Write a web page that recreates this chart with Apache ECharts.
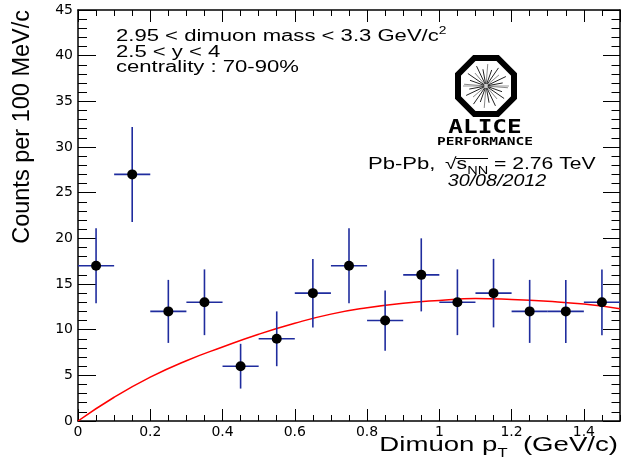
<!DOCTYPE html>
<html>
<head>
<meta charset="utf-8">
<script src="https://cdn.jsdelivr.net/npm/echarts@6/dist/echarts.min.js"></script>
<style>
html, body { margin: 0; padding: 0; background: #fff; }
#chart { width: 621px; height: 467px; }
</style>
</head>
<body>
<div id="chart"></div>
<script>
// measured points (bin centres, counts, stat. errors)
var ptCenters = [0.05, 0.15, 0.25, 0.35, 0.45, 0.55, 0.65, 0.75, 0.85, 0.95, 1.05, 1.15, 1.25, 1.35, 1.45];
var counts = [17, 27, 12, 13, 6, 9, 14, 17, 11, 16, 13, 14, 12, 12, 13];
var countErrs = [4.1, 5.2, 3.45, 3.6, 2.45, 3.0, 3.75, 4.1, 3.3, 4.0, 3.6, 3.75, 3.45, 3.45, 3.6];
var binHalfWidth = 0.05;

// red fit curve
var fitPt = [0, 0.1, 0.2, 0.3, 0.4, 0.5, 0.6, 0.7, 0.8, 0.9, 1.0, 1.1, 1.2, 1.3, 1.4, 1.5];
var fitCounts = [0, 2.6, 4.8, 6.6, 8.1, 9.5, 10.7, 11.7, 12.4, 12.9, 13.2, 13.4, 13.3, 13.1, 12.8, 12.3];

// axes
var xRange = [0, 1.5];
var yRange = [0, 45];
var xMajor = 0.2, xMinor = 0.05, yMajor = 5, yMinorSplit = 5;

var font = '"Liberation Sans", Arial, sans-serif';
var stretch = 1.38;

var myChart = echarts.init(document.getElementById('chart'));

var errData = ptCenters.map(function (x, i) { return [x, counts[i], countErrs[i]]; });
var pointData = ptCenters.map(function (x, i) { return [x, counts[i]]; });
var fitData = fitPt.map(function (x, i) { return [x, fitCounts[i]]; });

function xAxisDef(pos, step, tickLen, major) {
    return {
        type: 'value',
        position: pos,
        min: xRange[0],
        max: xRange[1],
        interval: step,
        axisLine: { show: major, onZero: false, lineStyle: { color: '#000', width: 1.5 } },
        axisTick: { show: true, inside: true, length: tickLen, lineStyle: { color: '#000', width: 1 } },
        axisLabel: {
            show: major && pos === 'bottom',
            showMaxLabel: false,
            margin: 4,
            color: '#000',
            fontFamily: 'DejaVu Sans',
            fontSize: 14
        },
        splitLine: { show: false }
    };
}

function yAxisDef(pos, tickLen) {
    return {
        type: 'value',
        position: pos,
        min: yRange[0],
        max: yRange[1],
        interval: yMajor,
        axisLine: { show: true, onZero: false, lineStyle: { color: '#000', width: 1.5 } },
        axisTick: { show: true, inside: true, length: tickLen, lineStyle: { color: '#000', width: 1 } },
        minorTick: { show: true, splitNumber: yMinorSplit, length: tickLen / 2, lineStyle: { color: '#000', width: 1 } },
        axisLabel: {
            show: pos === 'left',
            margin: 5,
            color: '#000',
            fontFamily: 'DejaVu Sans',
            fontSize: 14
        },
        splitLine: { show: false }
    };
}

// ALICE logo pieces
var octPts = [];
for (var k = 0; k < 8; k++) {
    var a = Math.PI / 8 + k * Math.PI / 4;
    var r = 28 / Math.cos(Math.PI / 8);
    octPts.push([r * Math.cos(a), r * Math.sin(a)]);
}
var rays = [];
for (var j = 0; j < 24; j++) {
    var ang = j * Math.PI / 12 + 0.08;
    var len = (j % 2) ? 17 : 22;
    rays.push({
        type: 'line',
        shape: { x1: 2 * Math.cos(ang), y1: 2 * Math.sin(ang), x2: len * Math.cos(ang), y2: len * Math.sin(ang) },
        style: { stroke: (j % 3) ? '#222' : '#888', lineWidth: 1 }
    });
}

var option = {
    animation: false,
    backgroundColor: '#fff',
    grid: { left: 78, right: 1, top: 10, bottom: 46, outerBoundsMode: 'none' },
    xAxis: [
        xAxisDef('bottom', xMajor, 12, true),
        xAxisDef('bottom', xMinor, 6, false),
        xAxisDef('top', xMajor, 12, true),
        xAxisDef('top', xMinor, 6, false)
    ],
    yAxis: [
        yAxisDef('left', 18),
        yAxisDef('right', 17)
    ],
    series: [
        {
            type: 'line',
            data: fitData,
            smooth: true,
            showSymbol: false,
            lineStyle: { color: '#ff0000', width: 1.5 },
            z: 2
        },
        {
            type: 'custom',
            data: errData,
            encode: { x: 0, y: 1 },
            renderItem: function (params, api) {
                var x = api.value(0), y = api.value(1), e = api.value(2);
                var l = api.coord([x - binHalfWidth, y]);
                var rr = api.coord([x + binHalfWidth, y]);
                var t = api.coord([x, y + e]);
                var b = api.coord([x, y - e]);
                var st = { stroke: '#1f2c9e', lineWidth: 1.6 };
                return {
                    type: 'group',
                    children: [
                        { type: 'line', shape: { x1: l[0], y1: l[1], x2: rr[0], y2: rr[1] }, style: st },
                        { type: 'line', shape: { x1: t[0], y1: t[1], x2: b[0], y2: b[1] }, style: st }
                    ]
                };
            },
            z: 3
        },
        {
            type: 'scatter',
            data: pointData,
            symbol: 'circle',
            symbolSize: 10,
            itemStyle: { color: '#000', opacity: 1 },
            z: 4
        }
    ],
    graphic: [
        {
            type: 'text', x: 23, y: 10, rotation: Math.PI / 2,
            style: { text: 'Counts per 100 MeV/c', font: '23.5px ' + font, fill: '#000', align: 'right', verticalAlign: 'middle' }
        },
        {
            type: 'text', x: 618, y: 445, scaleX: stretch,
            style: {
                text: '{a|Dimuon p}{s|T}{a|  (GeV/c)}',
                align: 'right', verticalAlign: 'middle',
                rich: {
                    a: { font: '20px ' + font, fill: '#000', lineHeight: 30 },
                    s: { font: '12px ' + font, fill: '#000', lineHeight: 12, verticalAlign: 'bottom' }
                }
            }
        },
        {
            type: 'text', x: 116, y: 37, scaleX: stretch,
            style: {
                text: '{a|2.95 < dimuon mass < 3.3 GeV/c}{s|2}',
                align: 'left', verticalAlign: 'middle',
                rich: {
                    a: { font: '16px ' + font, fill: '#000', lineHeight: 22 },
                    s: { font: '10px ' + font, fill: '#000', lineHeight: 10, verticalAlign: 'top' }
                }
            }
        },
        {
            type: 'text', x: 116, y: 53, scaleX: stretch,
            style: { text: '2.5 < y < 4', font: '16px ' + font, fill: '#000', align: 'left', verticalAlign: 'middle' }
        },
        {
            type: 'text', x: 116, y: 68, scaleX: stretch,
            style: { text: 'centrality : 70-90%', font: '16px ' + font, fill: '#000', align: 'left', verticalAlign: 'middle' }
        },
        {
            type: 'group', x: 486, y: 86,
            children: [
                { type: 'polygon', shape: { points: octPts }, style: { fill: '#fff', stroke: '#000', lineWidth: 6 } },
                { type: 'line', shape: { x1: -23, y1: 0, x2: 23, y2: 0 }, style: { stroke: '#999', lineWidth: 1.2 } }
            ].concat(rays)
        },
        {
            type: 'text', x: 485, y: 127.5, scaleX: 1.22,
            style: { text: 'ALICE', font: 'bold 20px "DejaVu Sans Mono", monospace', fill: '#000', align: 'center', verticalAlign: 'middle' }
        },
        {
            type: 'text', x: 485, y: 142.5, scaleX: 1.32,
            style: { text: 'PERFORMANCE', font: 'bold 11px "DejaVu Sans Mono", monospace', fill: '#000', align: 'center', verticalAlign: 'middle' }
        },
        {
            type: 'text', x: 368, y: 165, scaleX: stretch,
            style: { text: 'Pb-Pb,', font: '16px ' + font, fill: '#000', align: 'left', verticalAlign: 'middle' }
        },
        {
            type: 'text', x: 445, y: 165, scaleX: 1.32,
            style: {
                text: '{a|\u221As}{s|NN}{a| = 2.76 TeV}',
                align: 'left', verticalAlign: 'middle',
                rich: {
                    a: { font: '16px ' + font, fill: '#000', lineHeight: 22 },
                    s: { font: '11px ' + font, fill: '#000', lineHeight: 14, verticalAlign: 'bottom' }
                }
            }
        },
        {
            type: 'line', shape: { x1: 456, y1: 158.5, x2: 488, y2: 158.5 }, style: { stroke: '#000', lineWidth: 1 }
        },
        {
            type: 'text', x: 497, y: 181.7, scaleX: 1.23,
            style: { text: '30/08/2012', font: 'italic 16px ' + font, fill: '#000', align: 'center', verticalAlign: 'middle' }
        }
    ]
};

myChart.setOption(option);

window.addEventListener('resize', function () {
    myChart.resize();
});
</script>
</body>
</html>
